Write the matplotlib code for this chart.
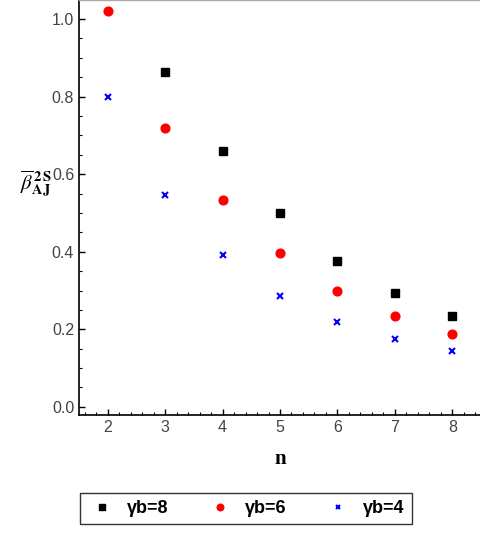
import matplotlib.pyplot as plt
import numpy as np

n = np.array([2, 3, 4, 5, 6, 7, 8])

yb8 = [np.nan, 0.863, 0.660, 0.500, 0.376, 0.294, 0.235]
yb6 = [1.020, 0.719, 0.534, 0.397, 0.299, 0.235, 0.188]
yb4 = [0.799, 0.546, 0.392, 0.286, 0.219, 0.175, 0.144]

labels = ["γb=8", "γb=6", "γb=4"]

plt.rcParams['font.family'] = ['Liberation Sans', 'DejaVu Sans']
plt.rcParams['mathtext.fontset'] = 'stix'

fig = plt.figure(figsize=(4.8, 5.43), dpi=100)
ax = fig.add_axes([0.1646, 0.2357, 0.8375, 0.7643])

ax.plot(n, yb8, 's', color='black', markersize=5.8, label=labels[0], linestyle='none')
ax.plot(n, yb6, 'o', color='red', markersize=6.3, label=labels[1], linestyle='none')
ax.plot(n, yb4, 'x', color='blue', markersize=4.5, markeredgewidth=1.5, label=labels[2], linestyle='none')

ax.set_xlim(1.5, 8.5)
ax.set_ylim(-0.021, 1.049)
ax.set_xticks(n)
ax.set_xticks(np.arange(1.6, 8.5, 0.2), minor=True)
ax.set_yticks([0.0, 0.2, 0.4, 0.6, 0.8, 1.0])
ax.set_yticklabels(["0.0", "0.2", "0.4", "0.6", "0.8", "1.0"])
ax.set_yticks(np.arange(0, 1.04, 0.05), minor=True)

ax.tick_params(which='both', direction='in', colors='black', labelcolor='#444444',
               labelsize=11.5, top=False, right=False)
ax.tick_params(which='major', length=4.5, width=1)
ax.tick_params(which='minor', length=2.5, width=0.8)

for side in ['left', 'bottom']:
    ax.spines[side].set_color('black')
    ax.spines[side].set_linewidth(1.2)
for side in ['top', 'right']:
    ax.spines[side].set_color('#aaaaaa')
    ax.spines[side].set_linewidth(1.0)

ax.set_xlabel("n", fontfamily='Liberation Serif', fontweight='bold', fontsize=15, labelpad=10)
fig.text(20 / 480, 1 - 183 / 543, r'$\overline{\beta}^{\,\mathbf{2\,S}}_{\mathbf{AJ}}$',
         fontsize=15, ha='left', va='center')

fig.legend(loc='center', bbox_to_anchor=(80 / 480, 6 / 543, 332 / 480, 57 / 543),
           mode='expand', ncol=3, frameon=True, fancybox=False, edgecolor='black',
           prop={'weight': 'bold', 'size': 13}, markerscale=0.75, handletextpad=0.6,
           handlelength=1.6, borderaxespad=0)

fig.savefig("out.png", dpi=100)
